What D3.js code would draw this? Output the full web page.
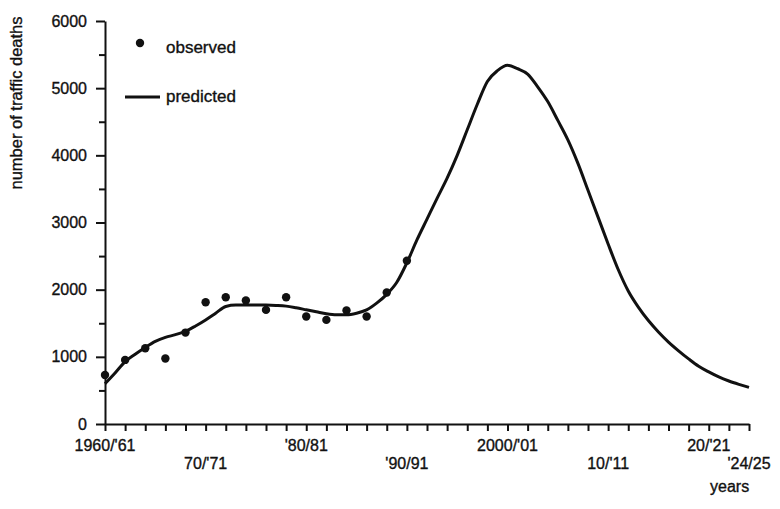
<!DOCTYPE html>
<html>
<head>
<meta charset="utf-8">
<script src="https://cdn.jsdelivr.net/npm/d3@7"></script>
<style>
  body { margin: 0; background: #fff; }
  text { font-family: "Liberation Sans", Arial, sans-serif; fill: #111; stroke: #111; stroke-width: 0.35px; }
</style>
</head>
<body>
<div id="chart"></div>
<script>
var width = 780,
    height = 509;

// observed, every second season 1960/61 .. 1990/91
var obsYears = [1960, 1962, 1964, 1966, 1968, 1970, 1972, 1974, 1976, 1978, 1980, 1982, 1984, 1986, 1988, 1990];
var obsDeaths = [730, 954, 1128, 975, 1361, 1813, 1888, 1838, 1699, 1888, 1600, 1550, 1689, 1600, 1957, 2430];

// predicted curve, one value per season
var predYears = d3.range(1960, 2025);
var predDeaths = [
  600, 760, 930, 1040, 1140, 1230, 1290, 1330, 1380, 1460,
  1550, 1650, 1750, 1770, 1770, 1770, 1770, 1765, 1755, 1730,
  1700, 1670, 1640, 1625, 1625, 1650, 1700, 1800, 1930, 2110,
  2400, 2740, 3050, 3360, 3660, 4000, 4380, 4760, 5100, 5260,
  5340, 5290, 5210, 5020, 4800, 4520, 4230, 3880, 3480, 3080,
  2680, 2300, 1980, 1740, 1540, 1370, 1220, 1090, 970, 860,
  775, 700, 640, 590, 545
];

var xLabelYears = [1960, 1970, 1980, 1990, 2000, 2010, 2020, 2024];
var xLabelText = ["1960/'61", "70/'71", "'80/81", "'90/91", "2000/'01", "10/'11", "20/'21", "'24/25"];
var xLabelRow = [0, 1, 0, 1, 0, 1, 0, 1];

var yTicks = [0, 1000, 2000, 3000, 4000, 5000, 6000];
var yMinorTicks = [500, 1500, 2500, 3500, 4500, 5500];

var svg = d3.select('#chart').append('svg')
    .attr('width', width)
    .attr('height', height);

var x = d3.scaleLinear().domain([1960, 2024]).range([105, 749]);
var y = d3.scaleLinear().domain([0, 6000]).range([424, 21]);

function styleAxis(g) {
    g.selectAll('path, line').attr('stroke', '#111').attr('stroke-width', 2);
    g.selectAll('text')
        .attr('fill', '#111')
        .style('font-size', '16px')
        .style('font-family', '"Liberation Sans", Arial, sans-serif');
}

// y axis
svg.append('g')
    .attr('transform', 'translate(' + x(1960) + ',0)')
    .call(d3.axisLeft(y).tickValues(yMinorTicks).tickSize(6).tickFormat('').tickSizeOuter(0))
    .call(styleAxis)
    .select('.domain').remove();
svg.append('g')
    .attr('transform', 'translate(' + x(1960) + ',0)')
    .call(d3.axisLeft(y).tickValues(yTicks).tickSize(9).tickPadding(9).tickSizeOuter(0)
        .tickFormat(d3.format('d')))
    .call(styleAxis);

// x axis
svg.append('g')
    .attr('transform', 'translate(0,' + y(0) + ')')
    .call(d3.axisBottom(x).tickValues(d3.range(1960, 2025, 2)).tickSize(7).tickFormat('').tickSizeOuter(0))
    .call(styleAxis);

svg.selectAll('.xlabel')
    .data(xLabelYears)
    .enter().append('text')
    .attr('class', 'xlabel')
    .attr('x', function(d) { return x(d); })
    .attr('y', function(d, i) { return xLabelRow[i] ? 469 : 451; })
    .attr('text-anchor', 'middle')
    .style('font-size', '16px')
    .text(function(d, i) { return xLabelText[i]; });

svg.append('text')
    .attr('x', 710)
    .attr('y', 492)
    .style('font-size', '16px')
    .text('years');

svg.append('text')
    .attr('transform', 'translate(22,103) rotate(-90)')
    .attr('text-anchor', 'middle')
    .style('font-size', '16.5px')
    .text('number of traffic deaths');

// predicted line
var line = d3.line()
    .x(function(d) { return x(d[0]); })
    .y(function(d) { return y(d[1]); })
    .curve(d3.curveMonotoneX);

svg.append('path')
    .datum(predYears.map(function(yr, i) { return [yr, predDeaths[i]]; }))
    .attr('d', line)
    .attr('fill', 'none')
    .attr('stroke', '#111')
    .attr('stroke-width', 3)
    .attr('stroke-linejoin', 'round');

// observed points
svg.selectAll('.obs')
    .data(obsYears)
    .enter().append('circle')
    .attr('class', 'obs')
    .attr('cx', function(d) { return x(d); })
    .attr('cy', function(d, i) { return y(obsDeaths[i]); })
    .attr('r', 4.2)
    .attr('fill', '#111');

// legend
svg.append('circle').attr('cx', 140).attr('cy', 43).attr('r', 4.2).attr('fill', '#111');
svg.append('text').attr('x', 166).attr('y', 53).style('font-size', '17px').text('observed');
svg.append('line').attr('x1', 125).attr('x2', 160).attr('y1', 97).attr('y2', 97)
    .attr('stroke', '#111').attr('stroke-width', 3);
svg.append('text').attr('x', 166).attr('y', 102).style('font-size', '17px').text('predicted');
</script>
</body>
</html>
